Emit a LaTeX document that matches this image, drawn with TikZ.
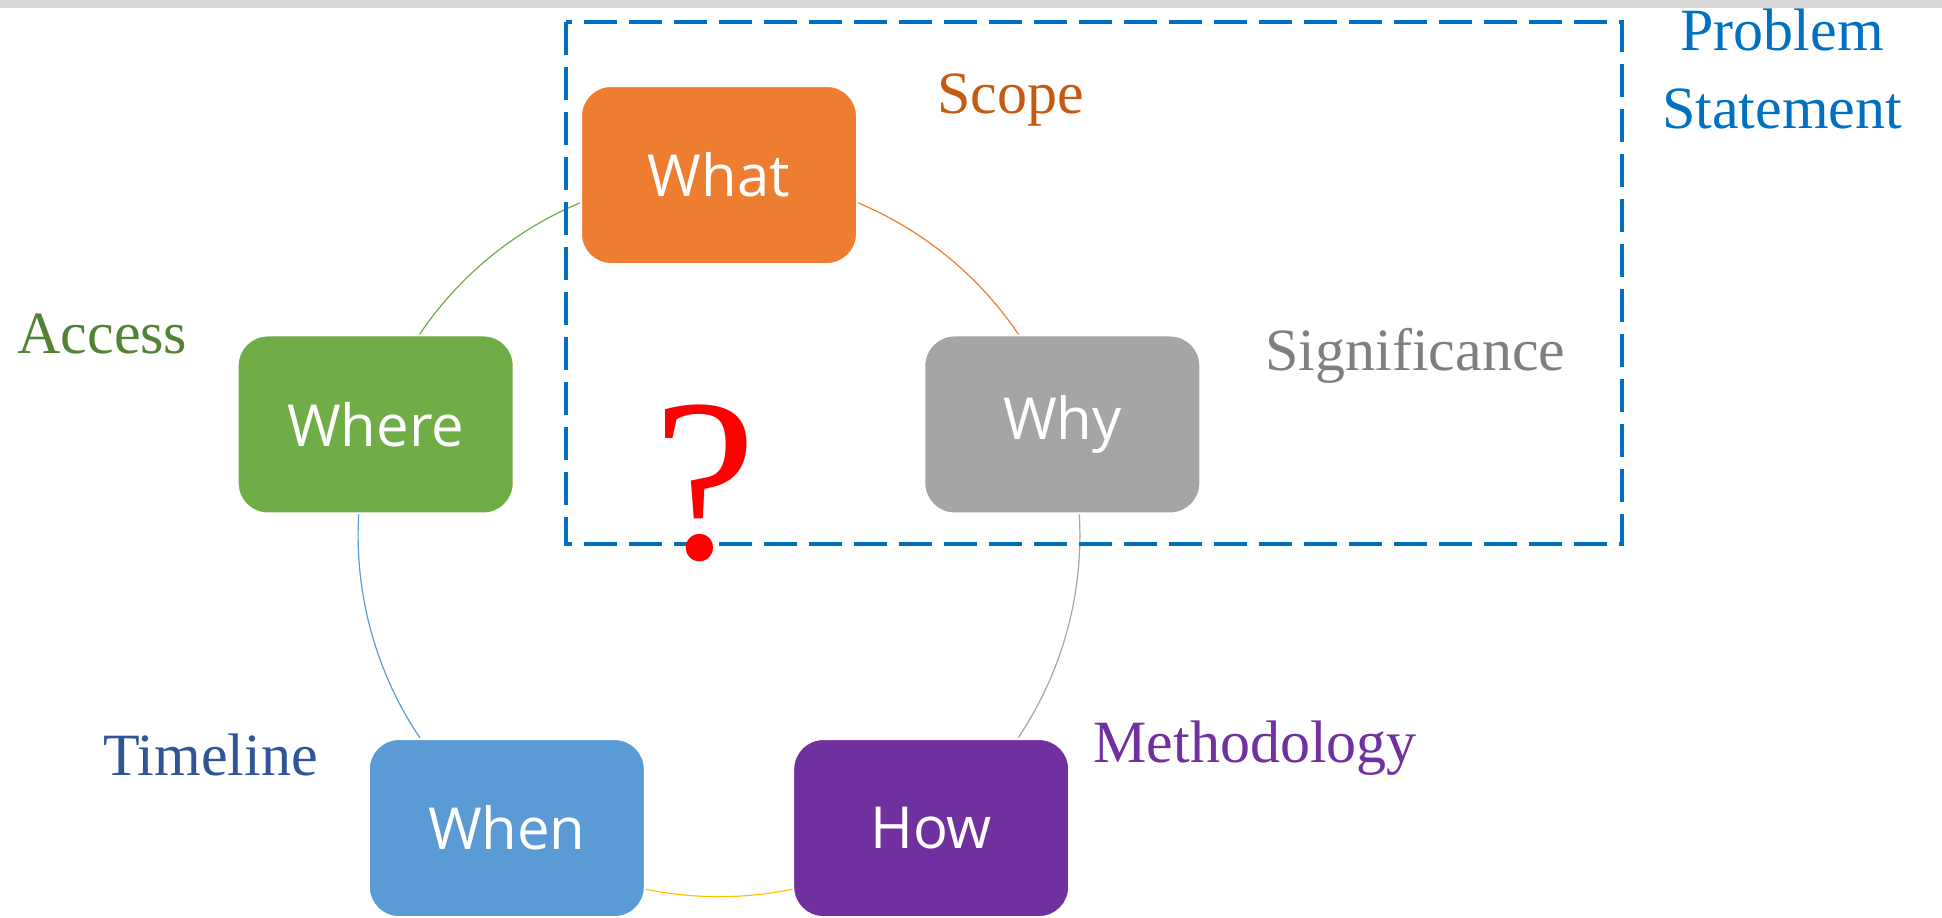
\documentclass[tikz,border=0pt]{standalone}
\usepackage{fontspec}
\setmainfont{Liberation Serif}
\newfontfamily\handfont{Open Sans}
\usetikzlibrary{backgrounds}

\definecolor{stripgray}{HTML}{D9D9D9}
\definecolor{whatorange}{HTML}{ED7D31}
\definecolor{whygray}{HTML}{A5A5A5}
\definecolor{howpurple}{HTML}{7030A0}
\definecolor{whenblue}{HTML}{5B9BD5}
\definecolor{wheregreen}{HTML}{70AD47}
\definecolor{ringgold}{HTML}{FFC000}
\definecolor{scopebrown}{HTML}{C55A11}
\definecolor{sigcolor}{HTML}{7F7F7F}
\definecolor{accessgreen}{HTML}{548235}
\definecolor{timeblue}{HTML}{2F5597}
\definecolor{framblue}{HTML}{0070C0}

\begin{document}
\begin{tikzpicture}[x=0.5pt, y=-0.5pt,
  qbox/.style={draw=white, line width=1pt, rounded corners=15pt,
    minimum width=138pt, minimum height=89pt, inner sep=0pt,
    text=white, font=\handfont\fontsize{29}{32}\selectfont},
  tag/.style={anchor=base west, inner sep=0pt, font=\fontsize{30}{39}\selectfont},
  ring/.style={line width=0.6pt, bend left=36, looseness=0.94}]
  \useasboundingbox (0,0) rectangle (1942,917);
  % Grey strip along the top
  \fill[stripgray] (0,0) rectangle (1942,8);
  % Question boxes on a pentagon
  \begin{scope}[shift={(719,536)}]
    \node[qbox, fill=whatorange] (what) at (-90:361) {What};
    \node[qbox, fill=whygray] (why) at (-18:361) {Why};
    \node[qbox, fill=howpurple] (how) at (54:361) {How};
    \node[qbox, fill=whenblue] (when) at (126:361) {When};
    \node[qbox, fill=wheregreen] (where) at (198:361) {Where};
  \end{scope}
  % Ring through the boxes
  \begin{scope}[on background layer]
    \draw[ring, wheregreen] (where.center) to (what.center);
    \draw[ring, whatorange] (what.center) to (why.center);
    \draw[ring, whygray] (why.center) to (how.center);
    \draw[ring, ringgold] (how.center) to (when.center);
    \draw[ring, whenblue] (when.center) to (where.center);
  \end{scope}
  % Aspect labels
  \node[tag, text=scopebrown] (scope) at (937,113) {Scope};
  \node[tag, text=sigcolor] (significance) at (1265,370) {Significance};
  \node[tag, text=howpurple] (method) at (1093,762) {Methodology};
  \node[tag, text=timeblue] (timeline) at (103,775) {Timeline};
  \node[tag, text=accessgreen] (access) at (17,353) {Access};
  % Problem statement frame
  \draw[framblue, line width=2pt, dash pattern=on 16.5pt off 6pt]
    (566,22) rectangle (1622,544);
  \node[anchor=base, align=center, inner sep=0pt, text=framblue,
    font=\fontsize{30}{39}\selectfont] (problem) at (1782,128) {Problem\\Statement};
  \node[anchor=base, inner sep=0pt, text=red, font=\fontsize{116}{116}\selectfont]
    (mark) at (705,558) {?};
\end{tikzpicture}
\end{document}
